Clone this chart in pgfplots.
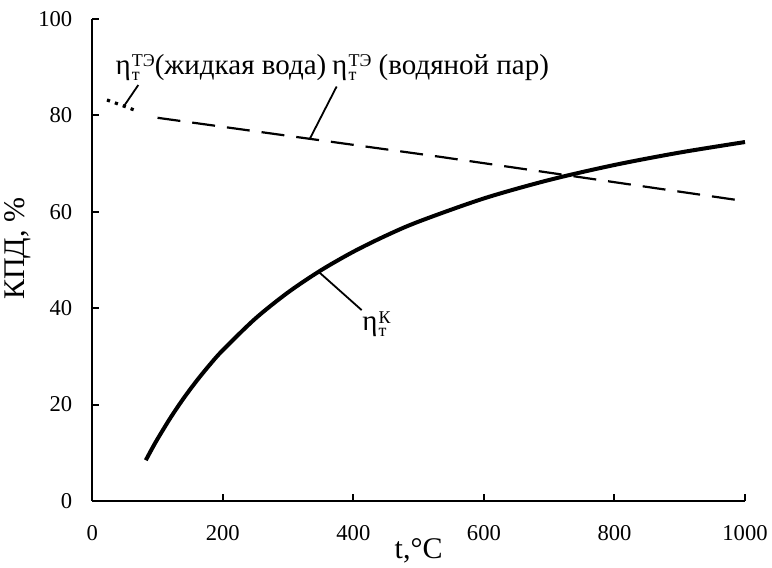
\documentclass[border=0pt]{standalone}
\usepackage{fontspec}
\setmainfont{Liberation Serif}
\usepackage{pgfplots}
\pgfplotsset{compat=1.18}
\newcommand{\supsub}[2]{\kern0.6pt\raisebox{-0.45ex}{\fontsize{9}{9}\selectfont\shortstack[l]{#1\\[-0.15ex]#2}}}
\newcommand{\etaTE}{η\supsub{ТЭ}{т}}
\newcommand{\etaK}{η\supsub{К}{т}}
\begin{document}
\begin{tikzpicture}
\useasboundingbox (-46.15pt,-33.5pt) rectangle (339.9pt,250.5pt);
\begin{axis}[
  at={(0,0)}, anchor=south west,
  scale only axis, width=326.4pt, height=241pt,
  xmin=0, xmax=1000, ymin=0, ymax=100,
  axis lines=left, axis line style={-, line width=1pt},
  tick align=inside, major tick length=3.5pt,
  tick style={line width=1pt, black},
  xtick={0,200,...,1000}, ytick={0,20,...,100},
  /pgf/number format/assume math mode=true,
  /pgf/number format/1000 sep={},
  ticklabel style={font=\fontsize{11.3}{13}\selectfont},
  yticklabel style={xshift=-6.5pt},
  xticklabel style={yshift=-8.5pt},
  xlabel={t,°C}, ylabel={КПД, \%},
  label style={font=\fontsize{15}{17}\selectfont},
  xlabel style={yshift=7.5pt},
  ylabel style={at={(ticklabel cs:0.523)}, yshift=-3pt},
  clip=false,
]
% solid curve
\addplot[black, line width=2pt, smooth] coordinates {
 (82,8.45) (90,10.47) (100,12.87) (120,17.30) (140,21.31) (160,24.94)
 (180,28.26) (200,31.29) (250,37.86) (300,43.28) (350,47.83) (400,51.71)
 (450,55.05) (500,57.96) (600,62.77) (700,66.60) (800,69.71) (900,72.29)
 (1000,74.47)};
% dashed line
\addplot[black, line width=1.1pt, dash pattern=on 11.5pt off 6pt] coordinates {
 (100,79.5) (533,71.4) (1000,62.2)};
% dotted
\addplot[black, line width=1.6pt, dash pattern=on 1.6pt off 2.6pt] coordinates {
 (22.5,83.2) (47,82) (70.5,80.8)};
% pointers
\draw[line width=0.9pt] (axis cs:47.9,81.8) -- (axis cs:70.5,86.3);
\draw[line width=0.9pt] (axis cs:333.5,75.2) -- (axis cs:374.4,86);
\draw[line width=0.9pt] (axis cs:346.3,47.6) -- (axis cs:412.7,39.6);
\node[anchor=west, inner sep=0pt, font=\fontsize{14.5}{16}\selectfont] at (axis cs:35,90) {\etaTE(жидкая вода)};
\node[anchor=west, inner sep=0pt, font=\fontsize{14.5}{16}\selectfont] at (axis cs:367,90) {\etaTE{} (водяной пар)};
\node[anchor=west, inner sep=0pt, font=\fontsize{14.5}{16}\selectfont] at (axis cs:413,36.7) {\etaK};
\end{axis}
\end{tikzpicture}
\end{document}
